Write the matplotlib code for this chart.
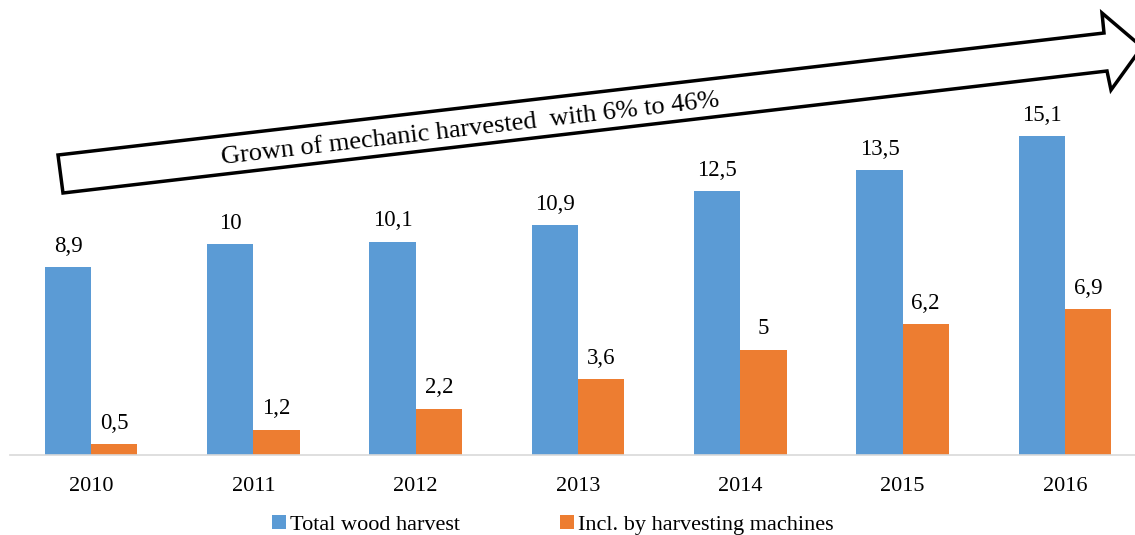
import numpy as np
import matplotlib.pyplot as plt
from matplotlib.patches import Polygon

# wood harvest, million m3
years = ["2010", "2011", "2012", "2013", "2014", "2015", "2016"]
total = [8.9, 10, 10.1, 10.9, 12.5, 13.5, 15.1]
machines = [0.5, 1.2, 2.2, 3.6, 5, 6.2, 6.9]

blue = "#5B9BD5"
orange = "#ED7D31"

plt.rcParams["font.family"] = ["Liberation Serif", "DejaVu Serif"]

W, H = 1135, 535
fig = plt.figure(figsize=(W / 100, H / 100), dpi=100)
# axes from x=10 to past the right edge, baseline at y=455
ax = fig.add_axes([10 / W, (H - 455) / H, 1136 / W, 455 / H])

x = np.arange(len(years))
bw = 0.285
b1 = ax.bar(x - bw / 2, total, bw, color=blue, label="Total wood harvest")
b2 = ax.bar(x + bw / 2, machines, bw, color=orange, label="Incl. by harvesting machines")

def fmt(v):
    return ("%g" % v).replace(".", ",")

for bars, vals in ((b1, total), (b2, machines)):
    for r, v in zip(bars, vals):
        ax.annotate(fmt(v), (r.get_x() + r.get_width() / 2, v),
                    xytext=(0, 7.5), textcoords="offset points",
                    ha="center", va="bottom", fontsize=16.5)

ax.set_xlim(-0.5, len(years) - 0.5)
ax.set_ylim(0, 455 / 21.1)
ax.set_xticks(x)
ax.set_xticklabels(years, fontsize=16)
ax.tick_params(axis="x", length=0, pad=16)
ax.set_yticks([])
for s in ("left", "right", "top"):
    ax.spines[s].set_visible(False)
ax.spines["bottom"].set_color("#d9d9d9")
ax.spines["bottom"].set_linewidth(1.2)

# outlined growth arrow, in figure pixels
pts = [(58, 155), (1104, 33), (1102, 13), (1142, 47), (1111, 90), (1107, 71), (63, 193)]
pts = [(px / W, 1 - py / H) for px, py in pts]
fig.patches.append(Polygon(pts, closed=True, transform=fig.transFigure,
                           facecolor="white", edgecolor="black", linewidth=2.5,
                           joinstyle="miter"))
fig.text(470 / W, 1 - 129 / H, "Grown of mechanic harvested  with 6% to 46%",
         fontsize=19, rotation=6.6, ha="center", va="center",
         rotation_mode="anchor")

fig.legend(handles=[b1, b2], loc="center", bbox_to_anchor=(553 / W, 1 - 525 / H),
           ncol=2, frameon=False, fontsize=16, handlelength=0.6, handleheight=0.6,
           handletextpad=0.2, columnspacing=4.5)

fig.savefig("out.png", dpi=100)
